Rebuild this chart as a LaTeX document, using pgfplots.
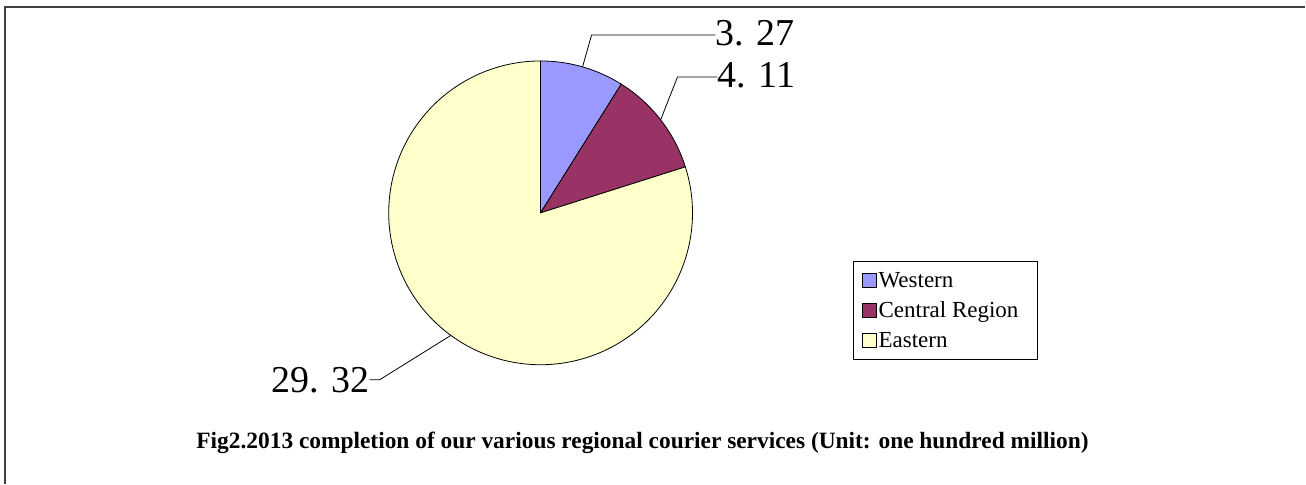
\documentclass[border=0pt]{standalone}
\usepackage{pgfplots}
\pgfplotsset{compat=1.18}
\usepackage{pgfplotstable}
\usepackage{fontspec}
\setmainfont{Liberation Serif}
\definecolor{cW}{HTML}{9999FF}
\definecolor{cC}{HTML}{993366}
\definecolor{cE}{HTML}{FFFFCC}
\pgfplotstableread{
region value
Western 3.27
Central 4.11
Eastern 29.32
}\piedata
\begin{document}
\begin{tikzpicture}
\pgfplotstablegetelem{0}{value}\of\piedata \let\vW\pgfplotsretval
\pgfplotstablegetelem{1}{value}\of\piedata \let\vC\pgfplotsretval
\pgfplotstablegetelem{2}{value}\of\piedata \let\vE\pgfplotsretval
\pgfmathsetmacro\tot{\vW+\vC+\vE}
\pgfmathsetmacro\aA{90}
\pgfmathsetmacro\aB{90-360*\vW/\tot}
\pgfmathsetmacro\aC{\aB-360*\vC/\tot}
\pgfmathsetmacro\aD{\aC-360*\vE/\tot}
\pgfmathsetmacro\mW{(\aA+\aB)/2}
\pgfmathsetmacro\mC{(\aB+\aC)/2}
\pgfmathsetmacro\mE{(\aC+\aD)/2}
\begin{axis}[x=1pt,y=1pt,xmin=0,xmax=1306,ymin=0,ymax=484,
  scale only axis, hide axis, clip=false,
  legend style={at={(axis cs:854,223)}, anchor=north west, draw=black, line width=1pt,
    font=\fontsize{23}{26}\selectfont, inner xsep=8pt, inner ysep=9pt, row sep=9pt,
    cells={anchor=west}},
  legend image code/.code={\draw[#1, line width=0.8pt] (0pt,-7pt) rectangle (14pt,7pt);},
]
\addplot[draw=none, forget plot] coordinates {(0,0) (1306,484)};
\addlegendimage{fill=cW, draw=black}
\addlegendentry{Western}
\addlegendimage{fill=cC, draw=black}
\addlegendentry{Central Region\rule{9pt}{0pt}}
\addlegendimage{fill=cE, draw=black}
\addlegendentry{Eastern}
% frame
\draw[line width=2pt, black!75] (axis cs:5,0) -- (axis cs:5,477) -- (axis cs:1306,477);
% pie
\filldraw[fill=cW, draw=black, line width=0.8pt] (axis cs:541,271) -- ++(\aA:152pt) arc[start angle=\aA, end angle=\aB, radius=152pt] -- cycle;
\filldraw[fill=cC, draw=black, line width=0.8pt] (axis cs:541,271) -- ++(\aB:152pt) arc[start angle=\aB, end angle=\aC, radius=152pt] -- cycle;
\filldraw[fill=cE, draw=black, line width=0.8pt] (axis cs:541,271) -- ++(\aC:152pt) arc[start angle=\aC, end angle=\aD, radius=152pt] -- cycle;
% leaders
\draw[line width=0.8pt] (axis cs:541,271) ++(\mW:152pt) -- (axis cs:592,449) -- (axis cs:716,449);
\draw[line width=0.8pt] (axis cs:541,271) ++(\mC:152pt) -- (axis cs:678,407) -- (axis cs:718,407);
\draw[line width=0.8pt] (axis cs:541,271) ++(\mE:152pt) -- (axis cs:380,104) -- (axis cs:370,104);
\node[anchor=west, inner sep=0pt, font=\fontsize{38}{42}\selectfont] at (axis cs:716,451) {3. 27};
\node[anchor=west, inner sep=0pt, font=\fontsize{38}{42}\selectfont] at (axis cs:718,409) {4. 11};
\node[anchor=east, inner sep=0pt, font=\fontsize{38}{42}\selectfont] at (axis cs:370,104) {29. 32};
% caption
\node[font=\fontsize{23.4}{26}\selectfont\bfseries] at (axis cs:643,41) {Fig2.2013 completion of our various regional courier services (Unit: one hundred million)};
\end{axis}
\end{tikzpicture}
\end{document}
